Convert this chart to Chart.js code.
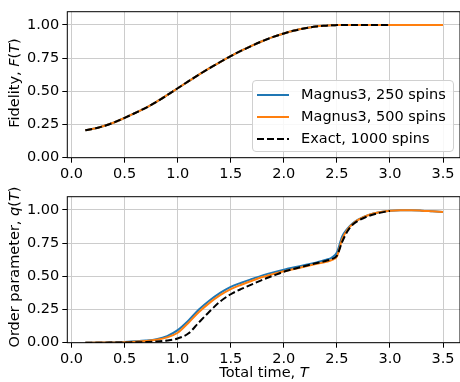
<!DOCTYPE html>
<html>
<head>
<meta charset="utf-8">
<script src="https://cdn.jsdelivr.net/npm/chart.js@4.4.0/dist/chart.umd.min.js"></script>
<style>
    body { margin: 0; background: #fff; font-family: "DejaVu Sans", sans-serif; }
    #wrap { position: relative; width: 460px; height: 382px; overflow: hidden; }
    canvas { position: absolute; left: 0; }
    .lab { position: absolute; font-size: 14.5px; white-space: nowrap; color: #000; }
    .ylab { transform: translate(-50%, -50%) rotate(-90deg); }
    .xlab { transform: translate(-50%, -50%); }
    #legend {
        position: absolute; left: 252px; top: 80px; width: 200px; height: 70px;
        border: 1px solid #d0d0d0; border-radius: 4px; background: rgba(255,255,255,0.85);
        font-size: 14.5px;
    }
    .row { position: absolute; left: 0; height: 22px; line-height: 22px; }
    .row svg { position: absolute; left: 4px; top: 10px; }
    .row span { position: absolute; left: 48px; white-space: nowrap; }
</style>
</head>
<body>
<div id="wrap">
    <canvas id="fidelityChart" width="460" height="190" style="top:0"></canvas>
    <canvas id="orderChart" width="460" height="197" style="top:185px"></canvas>
    <div class="lab ylab" style="left:14px; top:83px">Fidelity, <i>F</i>(<i>T</i>)</div>
    <div class="lab ylab" style="left:14px; top:267px">Order parameter, <i>q</i>(<i>T</i>)</div>
    <div class="lab xlab" style="left:264px; top:372px">Total time, <i>T</i></div>
    <div id="legend"></div>
</div>
<script>
// time grid (T) for each run
const timeMagnus = [0.13, 0.25, 0.4, 0.5, 0.6, 0.7, 0.8, 0.9, 1.0, 1.1, 1.2, 1.3, 1.4, 1.5, 1.6, 1.7, 1.8, 1.9, 2.0,
    2.1, 2.2, 2.3, 2.4, 2.45, 2.5, 2.55, 2.6, 2.65, 2.7, 2.8, 2.9, 3.0, 3.1, 3.2, 3.3, 3.4, 3.5];
const timeExact = [0.13, 0.25, 0.4, 0.5, 0.6, 0.7, 0.8, 0.9, 1.0, 1.1, 1.2, 1.3, 1.4, 1.5, 1.6, 1.7, 1.8, 1.9, 2.0,
    2.1, 2.2, 2.3, 2.4, 2.45, 2.5, 2.55, 2.6, 2.65, 2.7, 2.8, 2.9, 3.0];

// fidelity F(T)
const fidelity250 = [0.207, 0.226, 0.265, 0.300, 0.337, 0.376, 0.421, 0.471, 0.523, 0.575, 0.626, 0.675, 0.721, 0.765,
    0.806, 0.844, 0.879, 0.910, 0.936, 0.958, 0.975, 0.988, 0.995, 0.998, 0.999, 1.0, 1.0, 1.0, 1.0, 1.0, 1.0, 1.0,
    1.0, 1.0, 1.0, 1.0, 1.0];
const fidelity500 = [0.207, 0.226, 0.265, 0.300, 0.337, 0.376, 0.421, 0.471, 0.523, 0.575, 0.626, 0.675, 0.721, 0.765,
    0.806, 0.844, 0.879, 0.910, 0.936, 0.958, 0.975, 0.988, 0.995, 0.998, 0.999, 1.0, 1.0, 1.0, 1.0, 1.0, 1.0, 1.0,
    1.0, 1.0, 1.0, 1.0, 1.0];
const fidelityExact = [0.207, 0.226, 0.265, 0.300, 0.337, 0.376, 0.421, 0.471, 0.523, 0.575, 0.626, 0.675, 0.721, 0.765,
    0.806, 0.844, 0.879, 0.910, 0.936, 0.958, 0.975, 0.988, 0.995, 0.998, 0.999, 1.0, 1.0, 1.0, 1.0, 1.0, 1.0, 1.0];

// order parameter q(T)
const order250 = [0, 0.001, 0.003, 0.006, 0.010, 0.016, 0.027, 0.050, 0.095, 0.166, 0.250, 0.318, 0.375, 0.421,
    0.452, 0.480, 0.507, 0.530, 0.550, 0.568, 0.585, 0.603, 0.625, 0.640, 0.680, 0.800, 0.860, 0.900, 0.928, 0.963,
    0.983, 0.994, 0.998, 0.998, 0.995, 0.990, 0.985];
const order500 = [0, 0.001, 0.002, 0.004, 0.008, 0.013, 0.022, 0.040, 0.075, 0.149, 0.231, 0.300, 0.358, 0.404,
    0.437, 0.467, 0.495, 0.518, 0.538, 0.556, 0.574, 0.592, 0.610, 0.622, 0.650, 0.780, 0.853, 0.895, 0.925, 0.962,
    0.983, 0.994, 0.998, 0.998, 0.995, 0.990, 0.985];
const orderExact = [0, 0, 0.001, 0.002, 0.003, 0.005, 0.009, 0.017, 0.032, 0.069, 0.153, 0.235, 0.310, 0.365,
    0.405, 0.440, 0.475, 0.505, 0.535, 0.557, 0.578, 0.598, 0.618, 0.630, 0.655, 0.760, 0.840, 0.890, 0.918, 0.955,
    0.978, 0.993];

const xTicks = [0.0, 0.5, 1.0, 1.5, 2.0, 2.5, 3.0, 3.5];
const yTicks = [0.0, 0.25, 0.5, 0.75, 1.0];

const seriesLabels = ['Magnus3, 250 spins', 'Magnus3, 500 spins', 'Exact, 1000 spins'];
const seriesColors = ['#1f77b4', '#ff7f0e', '#000000'];
const exactDash = [7, 3];

function points(xs, ys) {
    return xs.map((x, i) => ({ x: x, y: ys[i] }));
}

// draw all four spines like matplotlib
const framePlugin = {
    id: 'frame',
    afterDraw(chart) {
        const a = chart.chartArea, ctx = chart.ctx;
        ctx.save();
        ctx.strokeStyle = '#000';
        ctx.lineWidth = 1;
        ctx.strokeRect(a.left, a.top, a.right - a.left, a.bottom - a.top);
        ctx.restore();
    }
};

function makeChart(id, series, topPad, xAxisHeight) {
    const datasets = series.map((s, i) => ({
        label: seriesLabels[i],
        data: s,
        borderColor: seriesColors[i],
        borderWidth: 2,
        borderDash: i === 2 ? exactDash : [],
        pointRadius: 0,
        fill: false,
        cubicInterpolationMode: 'monotone',
        order: 3 - i
    }));
    const font = { family: 'DejaVu Sans', size: 14.5 };
    return new Chart(document.getElementById(id), {
        type: 'line',
        data: { datasets: datasets },
        plugins: [framePlugin],
        options: {
            responsive: false,
            animation: false,
            layout: { padding: { top: topPad, right: 0, left: 0, bottom: 0 } },
            plugins: { legend: { display: false }, tooltip: { enabled: false } },
            scales: {
                x: {
                    type: 'linear',
                    min: -0.04,
                    max: 3.66,
                    afterBuildTicks: s => { s.ticks = xTicks.map(v => ({ value: v })); },
                    afterFit: s => { s.height = xAxisHeight; },
                    ticks: { callback: v => v.toFixed(1), color: '#000', font: font, padding: 3, maxRotation: 0 },
                    grid: { color: '#cccccc', lineWidth: 1, tickLength: 5, tickColor: '#000', tickWidth: 1 },
                    border: { display: false }
                },
                y: {
                    min: 0,
                    max: 1.1,
                    afterBuildTicks: s => { s.ticks = yTicks.map(v => ({ value: v })); },
                    afterFit: s => { s.width = 67.3; },
                    ticks: { callback: v => v.toFixed(2), color: '#000', font: font, padding: 3 },
                    grid: { color: '#cccccc', lineWidth: 1, tickLength: 5, tickColor: '#000', tickWidth: 1 },
                    border: { display: false }
                }
            }
        }
    });
}

makeChart('fidelityChart', [
    points(timeMagnus, fidelity250),
    points(timeMagnus, fidelity500),
    points(timeExact, fidelityExact)
], 6.7, 190 - 157.7);

makeChart('orderChart', [
    points(timeMagnus, order250),
    points(timeMagnus, order500),
    points(timeExact, orderExact)
], 7, 197 - 157.7);

// legend inside the top panel
const legend = document.getElementById('legend');
seriesLabels.forEach((label, i) => {
    const row = document.createElement('div');
    row.className = 'row';
    row.style.top = (2 + i * 21.8) + 'px';
    const dash = i === 2 ? ' stroke-dasharray="' + exactDash.join(',') + '"' : '';
    row.innerHTML = '<svg width="34" height="4"><line x1="0" y1="2" x2="32" y2="2" stroke="' + seriesColors[i] +
        '" stroke-width="2"' + dash + '/></svg><span>' + label + '</span>';
    legend.appendChild(row);
});
</script>
</body>
</html>
